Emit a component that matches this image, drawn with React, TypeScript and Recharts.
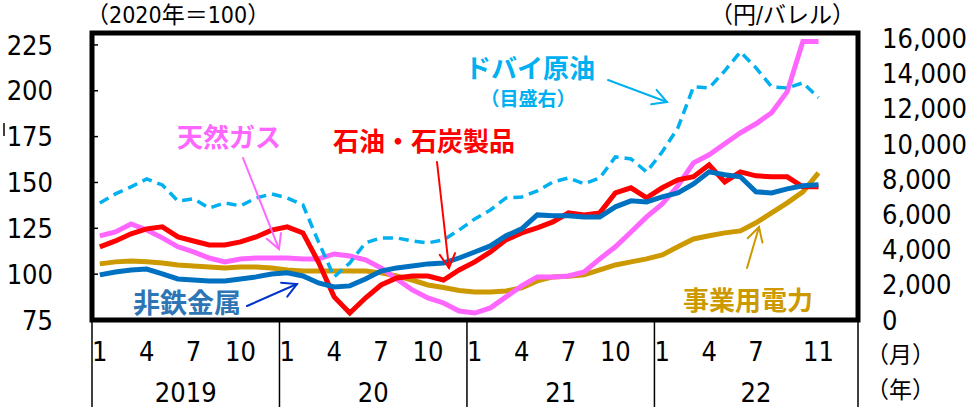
import { LineChart, Line, XAxis, YAxis, ReferenceArea } from "recharts";

// ============================================================
// 輸入物価（円ベース）と ドバイ原油価格
// ============================================================

const periods = [
  "2019/1", "2019/2", "2019/3", "2019/4", "2019/5", "2019/6", "2019/7", "2019/8", "2019/9", "2019/10", "2019/11", "2019/12",
  "2020/1", "2020/2", "2020/3", "2020/4", "2020/5", "2020/6", "2020/7", "2020/8", "2020/9", "2020/10", "2020/11", "2020/12",
  "2021/1", "2021/2", "2021/3", "2021/4", "2021/5", "2021/6", "2021/7", "2021/8", "2021/9", "2021/10", "2021/11", "2021/12",
  "2022/1", "2022/2", "2022/3", "2022/4", "2022/5", "2022/6", "2022/7", "2022/8", "2022/9", "2022/10", "2022/11",
];

// ドバイ原油（円/バレル, 右目盛）
const crudeDubai = [
  6650, 7160, 7560, 8010, 7670, 6760, 6880, 6360, 6650, 6480, 6930, 7160,
  6930, 6540, 4430, 2450, 3240, 4380, 4660, 4660, 4490, 4380, 4550, 5110,
  5740, 6250, 6930, 6990, 7330, 7840, 8070, 7730, 8070, 9260, 9150, 8410,
  9550, 10910, 13240, 13180, 14150, 15230, 14320, 13240, 13180, 13470, 12620,
];

// 石油・石炭製品（2020年=100）
const oilCoal = [
  114.9, 118.1, 122.0, 124.7, 125.8, 120.3, 118.1, 115.9, 115.9, 117.6, 120.3, 124.0,
  125.8, 122.5, 106.5, 87.6, 78.8, 87.0, 94.1, 97.9, 99.0, 99.0, 96.8, 102.3,
  106.7, 112.1, 118.7, 122.5, 125.2, 128.5, 133.4, 132.3, 133.4, 144.3, 147.1, 141.6,
  147.1, 151.4, 153.1, 159.6, 150.3, 155.8, 153.6, 153.1, 153.1, 147.6, 147.6,
];

// 非鉄金属
const nonFerrous = [
  99.6, 101.2, 102.3, 102.8, 100.1, 97.4, 96.8, 96.3, 96.3, 97.4, 98.5, 100.1,
  100.7, 99.0, 95.2, 93.0, 93.6, 97.4, 101.7, 103.4, 104.5, 105.6, 106.1, 108.8,
  112.1, 115.4, 120.9, 124.7, 132.3, 131.8, 131.8, 131.2, 131.2, 136.7, 140.0, 139.4,
  142.1, 144.3, 149.2, 155.8, 154.2, 153.1, 144.9, 144.3, 146.5, 148.2, 148.7,
];

// 天然ガス
const naturalGas = [
  120.9, 123.0, 127.4, 124.1, 119.8, 114.9, 112.1, 108.8, 106.7, 108.3, 108.8, 108.8,
  108.8, 108.3, 108.3, 111.0, 109.9, 107.8, 103.4, 97.4, 91.4, 87.0, 84.3, 79.9,
  78.8, 81.6, 87.6, 93.6, 98.5, 98.5, 99.0, 101.2, 108.3, 114.9, 123.0, 131.2,
  138.3, 148.2, 160.7, 165.1, 171.1, 177.1, 182.0, 188.0, 199.5, 226.8, 226.8,
];

// 事業用電力
const electricity = [
  105.6, 106.7, 107.2, 106.7, 106.1, 105.0, 104.5, 103.9, 103.4, 103.9, 103.9, 103.4,
  102.3, 101.7, 101.7, 101.7, 101.7, 101.7, 100.7, 99.0, 96.8, 94.1, 92.7, 91.1,
  90.3, 90.3, 90.8, 92.5, 96.3, 98.5, 98.8, 99.6, 102.3, 105.0, 106.7, 108.3,
  110.5, 114.9, 119.2, 120.9, 122.5, 123.6, 128.0, 133.4, 138.9, 144.9, 155.2,
];

// axis ticks / labels
const monthTicks = [0, 3, 6, 9, 12, 15, 18, 21, 24, 27, 30, 33, 36, 39, 42, 46];
const monthLabels = ["1", "4", "7", "10", "1", "4", "7", "10", "1", "4", "7", "10", "1", "4", "7", "11"];
const yearTicks = [5.5, 17.5, 29.5, 42];
const yearLabels = ["2019", "20", "21", "22"];
const yearBreaks = [-0.5, 11.5, 23.5, 35.5, 48.53];
const leftTicks = [75, 100, 125, 150, 175, 200, 225];
const rightTicks = [0, 2000, 4000, 6000, 8000, 10000, 12000, 14000, 16000];

const X_DOMAIN: [number, number] = [-0.5, 48.53];
const LEFT_DOMAIN: [number, number] = [75, 231.5];
const RIGHT_DOMAIN: [number, number] = [0, 16300];

const NUM_FONT = '"Liberation Sans Narrow", "DejaVu Sans Condensed", "Noto Sans CJK JP", sans-serif';
const JP_FONT = '"Noto Sans CJK JP", sans-serif';

const data = periods.map((p, i) => ({
  i,
  period: p,
  crude: crudeDubai[i],
  oil: oilCoal[i],
  metal: nonFerrous[i],
  gas: naturalGas[i],
  power: electricity[i],
}));

// ── ticks ──

function LeftTick(props: any) {
  const { x, y, payload } = props;
  return (
    <g>
      <line x1={x + 39} x2={x + 45} y1={y} y2={y} stroke="#000" strokeWidth={1.5} />
      <text x={x} y={y} dy="0.36em" textAnchor="end" fontSize={27} fontFamily={NUM_FONT} fill="#000">
        {payload.value}
      </text>
    </g>
  );
}

// vertical separators between years, under the plot
function BreakTick(props: any) {
  const { x, y } = props;
  return <line x1={x} x2={x} y1={y - 1} y2={y + 90} stroke="#000" strokeWidth={1.5} />;
}

// ── annotation arrow ──

function Arrow({ x1, y1, x2, y2, color }: { x1: number; y1: number; x2: number; y2: number; color: string }) {
  const a = Math.atan2(y2 - y1, x2 - x1);
  const len = 16;
  const spread = 0.5;
  const p1 = [x2 - len * Math.cos(a - spread), y2 - len * Math.sin(a - spread)];
  const p2 = [x2 - len * Math.cos(a + spread), y2 - len * Math.sin(a + spread)];
  return (
    <g stroke={color} strokeWidth={2} fill="none" strokeLinecap="round">
      <line x1={x1} y1={y1} x2={x2} y2={y2} />
      <polyline points={`${p1[0]},${p1[1]} ${x2},${y2} ${p2[0]},${p2[1]}`} />
    </g>
  );
}

export default function App() {
  return (
    <div style={{ position: "absolute", left: 0, top: 0, width: 969, height: 407, background: "#fff" }}>
      <LineChart
        width={969}
        height={407}
        data={data}
        margin={{ top: 33, right: 0, bottom: 0, left: 0 }}
      >
        {/* bottom axes stack in id order: a_sep, b_month, c_year */}
        <XAxis
          xAxisId="a_sep"
          dataKey="i"
          type="number"
          domain={X_DOMAIN}
          allowDataOverflow
          ticks={yearBreaks}
          tick={<BreakTick />}
          tickFormatter={() => ""}
          tickSize={0}
          tickMargin={0}
          axisLine={false}
          tickLine={false}
          height={1}
          interval={0}
        />
        <XAxis
          xAxisId="b_month"
          dataKey="i"
          type="number"
          domain={X_DOMAIN}
          allowDataOverflow
          ticks={monthTicks}
          tickFormatter={(v: number) => monthLabels[monthTicks.indexOf(v)]}
          tick={{ fontSize: 27, fill: "#000", fontFamily: NUM_FONT }}
          tickSize={0}
          tickMargin={21}
          axisLine={false}
          tickLine={false}
          height={39}
          interval={0}
        />
        <XAxis
          xAxisId="c_year"
          dataKey="i"
          type="number"
          domain={X_DOMAIN}
          allowDataOverflow
          ticks={yearTicks}
          tickFormatter={(v: number) => yearLabels[yearTicks.indexOf(v)]}
          tick={{ fontSize: 27, fill: "#000", fontFamily: NUM_FONT }}
          tickSize={0}
          tickMargin={23}
          axisLine={false}
          tickLine={false}
          height={47}
          interval={0}
        />
        <YAxis
          yAxisId="l"
          orientation="left"
          domain={LEFT_DOMAIN}
          allowDataOverflow
          ticks={leftTicks}
          tick={<LeftTick />}
          tickSize={0}
          tickMargin={39}
          axisLine={false}
          tickLine={false}
          width={92}
          interval={0}
        />
        <YAxis
          yAxisId="r"
          orientation="right"
          domain={RIGHT_DOMAIN}
          allowDataOverflow
          ticks={rightTicks}
          tickFormatter={(v: number) => v.toLocaleString("en-US")}
          tick={{ fontSize: 27, fill: "#000", fontFamily: NUM_FONT, textAnchor: "start" }}
          tickSize={0}
          tickMargin={24}
          axisLine={false}
          tickLine={false}
          width={111}
          interval={0}
        />

        <Line xAxisId="b_month" yAxisId="l" dataKey="power" stroke="#CC9900" strokeWidth={5} dot={false} isAnimationActive={false} />
        <Line xAxisId="b_month" yAxisId="l" dataKey="gas" stroke="#FF66FF" strokeWidth={5} dot={false} isAnimationActive={false} />
        <Line xAxisId="b_month" yAxisId="l" dataKey="oil" stroke="#FF0000" strokeWidth={5} dot={false} isAnimationActive={false} />
        <Line xAxisId="b_month" yAxisId="l" dataKey="metal" stroke="#0070C0" strokeWidth={5} dot={false} isAnimationActive={false} />
        <Line
          xAxisId="b_month"
          yAxisId="r"
          dataKey="crude"
          stroke="#00B0F0"
          strokeWidth={3.5}
          strokeDasharray="10 6"
          dot={false}
          isAnimationActive={false}
        />

        {/* plot frame */}
        <ReferenceArea
          xAxisId="b_month"
          yAxisId="l"
          x1={X_DOMAIN[0]}
          x2={X_DOMAIN[1]}
          y1={LEFT_DOMAIN[0]}
          y2={LEFT_DOMAIN[1]}
          fill="none"
          fillOpacity={0}
          stroke="#000"
          strokeWidth={5}
          ifOverflow="visible"
        />
      </LineChart>

      {/* annotations */}
      <svg
        width={969}
        height={407}
        style={{ position: "absolute", left: 0, top: 0, pointerEvents: "none" }}
      >
        <g fontFamily={NUM_FONT} fontSize={23} fill="#000" dominantBaseline="central">
          <text x={86} y={15}>（2020年＝100）</text>
          <text x={710} y={15}>（円/バレル）</text>
          <text x={866} y={355}>（月）</text>
          <text x={866} y={390}>（年）</text>
        </g>
        <line x1={4} x2={4} y1={123} y2={136} stroke="#000" strokeWidth={1.5} />

        <g fontFamily={JP_FONT} fontWeight={700} textAnchor="middle" dominantBaseline="central">
          <text x={530} y={66} fontSize={26} fill="#00B0F0">ドバイ原油</text>
          <text x={528} y={97} fontSize={19} fill="#00B0F0">（目盛右）</text>
          <text x={229} y={135} fontSize={26} fill="#FF66FF">天然ガス</text>
          <text x={424} y={139} fontSize={26} fill="#FF0000">石油・石炭製品</text>
          <text x={187} y={301} fontSize={27} fill="#2E75B6">非鉄金属</text>
          <text x={748} y={298} fontSize={26} fill="#CC9900">事業用電力</text>
        </g>

        <Arrow x1={608} y1={80} x2={667} y2={102} color="#00B0F0" />
        <Arrow x1={243} y1={158} x2={279} y2={249} color="#FF66FF" />
        <Arrow x1={437} y1={162} x2={449} y2={268} color="#FF0000" />
        <Arrow x1={247} y1={306} x2={297} y2={284} color="#0033CC" />
        <Arrow x1={747} y1={268} x2={759} y2={227} color="#CC9900" />
      </svg>
    </div>
  );
}
